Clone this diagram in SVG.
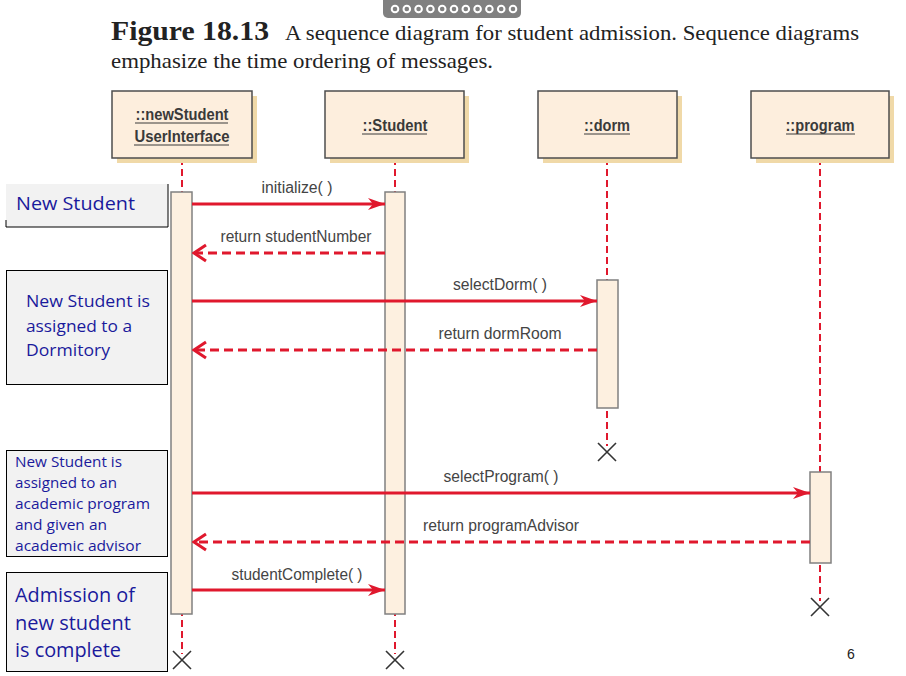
<svg xmlns="http://www.w3.org/2000/svg" width="906" height="676" viewBox="0 0 906 676">
<defs>
<style>
.obj{fill:#fdeedd;stroke:#4d4d4d;stroke-width:1.5}
.shadow{fill:#f0d9a8}
.objt{font-family:"Liberation Sans",Arial,sans-serif;font-weight:bold;font-size:16px;fill:#3a3a3a;text-anchor:middle}
.ul{stroke:#3a3a3a;stroke-width:1}
.life{stroke:#e0182d;stroke-width:2;stroke-dasharray:7,4;fill:none}
.act{fill:#fdf0e0;stroke:#808080;stroke-width:1.5}
.msg{stroke:#e0182d;stroke-width:3;fill:none}
.ret{stroke:#e0182d;stroke-width:3;fill:none;stroke-dasharray:9,5}
.lbl{font-family:"Liberation Sans",Arial,sans-serif;font-size:16px;fill:#444;text-anchor:middle}
.x{stroke:#333;stroke-width:1.6}
.note{fill:#f2f2f2;stroke:#000;stroke-width:1}
.nt{font-family:"Open Sans","Noto Sans",sans-serif;fill:#1a1a9c}
.title{font-family:"Liberation Serif","Times New Roman",serif;fill:#222}
</style>
<marker id="sol" markerUnits="userSpaceOnUse" markerWidth="18" markerHeight="14" refX="17" refY="7" orient="auto">
<path d="M0,1 L17,7 L0,13 L5,7 z" fill="#e0182d"/>
</marker>
<marker id="opn" markerUnits="userSpaceOnUse" markerWidth="16" markerHeight="20" refX="14" refY="10" orient="auto">
<path d="M2,2 L14,10 L2,18" fill="none" stroke="#e0182d" stroke-width="3"/>
</marker>
</defs>
<rect width="906" height="676" fill="#fff"/>

<g id="topbar">
<rect x="383" y="-6" width="138" height="24" rx="5" fill="#808080"/>
<g fill="#808080" stroke="#fff" stroke-width="2">
<circle cx="395" cy="9" r="3.3"/><circle cx="406.8" cy="9" r="3.3"/><circle cx="418.6" cy="9" r="3.3"/><circle cx="430.4" cy="9" r="3.3"/><circle cx="442.2" cy="9" r="3.3"/><circle cx="454" cy="9" r="3.3"/><circle cx="465.8" cy="9" r="3.3"/><circle cx="477.6" cy="9" r="3.3"/><circle cx="489.4" cy="9" r="3.3"/><circle cx="501.2" cy="9" r="3.3"/><circle cx="513" cy="9" r="3.3"/>
</g>
</g>

<g id="title">
<text class="title" x="111" y="40" font-size="27" font-weight="bold" textLength="158" lengthAdjust="spacingAndGlyphs">Figure 18.13</text>
<text class="title" x="285" y="40" font-size="21" textLength="574" lengthAdjust="spacingAndGlyphs">A sequence diagram for student admission. Sequence diagrams</text>
<text class="title" x="111" y="68" font-size="21" textLength="382" lengthAdjust="spacingAndGlyphs">emphasize the time ordering of messages.</text>
</g>

<g id="lifelines">
<line class="life" x1="182" y1="158" x2="182" y2="654"/>
<line class="life" x1="395" y1="158" x2="395" y2="654"/>
<line class="life" x1="607" y1="158" x2="607" y2="446"/>
<line class="life" x1="820" y1="158" x2="820" y2="601"/>
</g>

<g id="obj-ui">
<rect class="shadow" x="117" y="96" width="140" height="67"/>
<rect class="obj" x="112" y="91" width="140" height="67"/>
<text class="objt" x="182" y="120" textLength="93" lengthAdjust="spacingAndGlyphs">::newStudent</text>
<line class="ul" x1="135" y1="123" x2="228" y2="123"/>
<text class="objt" x="182" y="142" textLength="95" lengthAdjust="spacingAndGlyphs">UserInterface</text>
<line class="ul" x1="134" y1="145" x2="229" y2="145"/>
</g>
<g id="obj-student">
<rect class="shadow" x="330" y="96" width="139" height="67"/>
<rect class="obj" x="325" y="91" width="139" height="67"/>
<text class="objt" x="395" y="131" textLength="65" lengthAdjust="spacingAndGlyphs">::Student</text>
<line class="ul" x1="362" y1="134" x2="427" y2="134"/>
</g>
<g id="obj-dorm">
<rect class="shadow" x="543" y="96" width="139" height="67"/>
<rect class="obj" x="538" y="91" width="139" height="67"/>
<text class="objt" x="607" y="131" textLength="46" lengthAdjust="spacingAndGlyphs">::dorm</text>
<line class="ul" x1="584" y1="134" x2="630" y2="134"/>
</g>
<g id="obj-program">
<rect class="shadow" x="756" y="96" width="138" height="67"/>
<rect class="obj" x="751" y="91" width="138" height="67"/>
<text class="objt" x="820" y="131" textLength="69" lengthAdjust="spacingAndGlyphs">::program</text>
<line class="ul" x1="786" y1="134" x2="855" y2="134"/>
</g>

<g id="activations">
<rect class="act" x="171" y="192" width="21" height="422"/>
<rect class="act" x="385" y="192" width="20" height="422"/>
<rect class="act" x="597" y="280" width="21" height="128"/>
<rect class="act" x="810" y="472" width="21" height="91"/>
</g>

<g id="connectors">
<line class="msg" x1="192" y1="204" x2="385" y2="204" marker-end="url(#sol)"/>
<text class="lbl" x="297" y="193" textLength="71" lengthAdjust="spacingAndGlyphs">initialize( )</text>
<line class="ret" x1="385" y1="253" x2="194" y2="253" marker-end="url(#opn)"/>
<text class="lbl" x="296" y="242" textLength="151" lengthAdjust="spacingAndGlyphs">return studentNumber</text>
<line class="msg" x1="192" y1="301" x2="597" y2="301" marker-end="url(#sol)"/>
<text class="lbl" x="500" y="290" textLength="94" lengthAdjust="spacingAndGlyphs">selectDorm( )</text>
<line class="ret" x1="597" y1="350" x2="194" y2="350" marker-end="url(#opn)"/>
<text class="lbl" x="500" y="339" textLength="123" lengthAdjust="spacingAndGlyphs">return dormRoom</text>
<line class="msg" x1="192" y1="493" x2="810" y2="493" marker-end="url(#sol)"/>
<text class="lbl" x="501" y="482" textLength="115" lengthAdjust="spacingAndGlyphs">selectProgram( )</text>
<line class="ret" x1="810" y1="542" x2="194" y2="542" marker-end="url(#opn)"/>
<text class="lbl" x="501" y="531" textLength="156" lengthAdjust="spacingAndGlyphs">return programAdvisor</text>
<line class="msg" x1="192" y1="590" x2="385" y2="590" marker-end="url(#sol)"/>
<text class="lbl" x="297" y="580" textLength="131" lengthAdjust="spacingAndGlyphs">studentComplete( )</text>
</g>

<g id="destroy">
<path class="x" d="M173,651 L191,669 M191,651 L173,669"/>
<path class="x" d="M386,651 L404,669 M404,651 L386,669"/>
<path class="x" d="M598,443 L616,461 M616,443 L598,461"/>
<path class="x" d="M811,598 L829,616 M829,598 L811,616"/>
</g>

<g id="note1">
<rect x="6" y="184" width="162" height="43" fill="#f2f2f2"/>
<path d="M6,220 L6,227 L168,227 L168,184" fill="none" stroke="#000" stroke-width="1"/>
<text class="nt" x="16" y="210" font-size="19" textLength="119" lengthAdjust="spacingAndGlyphs">New Student</text>
</g>
<g id="note2">
<rect class="note" x="6.5" y="270.5" width="161" height="114"/>
<text class="nt" font-size="16.5"><tspan x="26" y="307" textLength="124" lengthAdjust="spacingAndGlyphs">New Student is</tspan><tspan x="26" y="332" textLength="106" lengthAdjust="spacingAndGlyphs">assigned to a</tspan><tspan x="26" y="356" textLength="84" lengthAdjust="spacingAndGlyphs">Dormitory</tspan></text>
</g>
<g id="note3">
<rect class="note" x="6.5" y="450.5" width="161" height="106"/>
<text class="nt" font-size="14.5"><tspan x="15" y="467" textLength="107" lengthAdjust="spacingAndGlyphs">New Student is</tspan><tspan x="15" y="488" textLength="102" lengthAdjust="spacingAndGlyphs">assigned to an</tspan><tspan x="15" y="509" textLength="135" lengthAdjust="spacingAndGlyphs">academic program</tspan><tspan x="15" y="530" textLength="92" lengthAdjust="spacingAndGlyphs">and given an</tspan><tspan x="15" y="551" textLength="126" lengthAdjust="spacingAndGlyphs">academic advisor</tspan></text>
</g>
<g id="note4">
<rect class="note" x="6.5" y="572.5" width="161" height="99"/>
<text class="nt" font-size="20.5"><tspan x="15" y="602" textLength="120" lengthAdjust="spacingAndGlyphs">Admission of</tspan><tspan x="15" y="630" textLength="116" lengthAdjust="spacingAndGlyphs">new student</tspan><tspan x="15" y="657" textLength="106" lengthAdjust="spacingAndGlyphs">is complete</tspan></text>
</g>

<text x="851" y="659" font-family="Liberation Sans,Arial,sans-serif" font-size="14" fill="#222" text-anchor="middle">6</text>
</svg>
